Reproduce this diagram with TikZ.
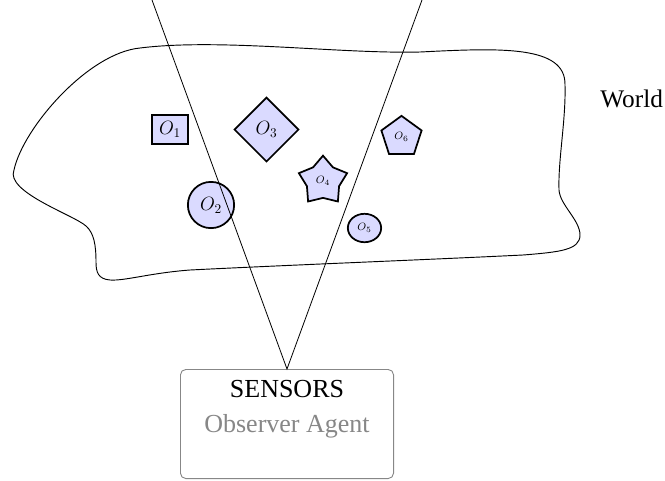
\documentclass[tikz,border=0pt]{standalone}
\usepackage{fontspec}
\newfontfamily\timesfont{Liberation Serif}
\usetikzlibrary{shapes.geometric}
\definecolor{objfill}{RGB}{218,218,255}
\definecolor{agentgray}{RGB}{135,135,135}
\tikzset{
  obj/.style={draw=black, line width=1.3pt, fill=objfill, inner sep=0pt,
              font=\fontsize{13.9}{16}\selectfont},
  smallobj/.style={obj, font=\fontsize{8.5}{10}\selectfont},
  worldline/.style={line width=0.7pt},
  coneline/.style={line width=0.6pt},
  agentbox/.style={draw=agentgray, line width=0.7pt, rounded corners=4pt,
                   minimum width=159.8pt, minimum height=81.8pt, inner sep=0pt},
  txt/.style={font=\timesfont\fontsize{19.5}{22}\selectfont, inner sep=0pt}
}
\begin{document}
\begin{tikzpicture}[x=0.75pt,y=-0.75pt]
\useasboundingbox (0,0) rectangle (665,480);

% the world region, a closed freehand outline
\draw[worldline]
  (14,170) .. controls (23,128) and (88,53) .. (140,48)
  .. controls (220,38) and (340,54) .. (420,52)
  .. controls (500,48) and (566,45) .. (565,85)
  .. controls (566,120) and (558,160) .. (559,190)
  .. controls (560,205) and (580,220) .. (580,235)
  .. controls (580,250) and (560,252) .. (523,255)
  .. controls (420,260) and (290,265) .. (190,270)
  .. controls (150,273) and (125,281) .. (110,280)
  .. controls (98,279) and (96,272) .. (96,262)
  .. controls (96,245) and (94,233) .. (86,226)
  .. controls (74,215) and (5,192) .. (14,170) -- cycle;
\node[txt, anchor=base west, font=\timesfont\fontsize{19}{22}\selectfont] (world) at (600,107) {World};

% objects in the world
\node[obj, rectangle, minimum width=27.2pt, minimum height=22pt] (o1) at (170,129.5) {$O_1$};
\node[obj, circle, minimum size=34.7pt] (o2) at (211,205) {$O_2$};
\node[obj, diamond, minimum size=48.5pt] (o3) at (266.5,129.5) {$O_3$};
\node[smallobj, star, star points=5, minimum size=38pt] (o4) at (323,181) {$O_4$};
\node[smallobj, ellipse, minimum width=25pt, minimum height=21.3pt] (o5) at (364.5,228) {$O_5$};
\node[smallobj, regular polygon, regular polygon sides=5, minimum size=31.7pt] (o6) at (401.5,137) {$O_6$};

% observer agent with its sensors
\node[agentbox] (agent) at (287,424) {};
\node[txt, anchor=base] (sensors) at (287,397) {SENSORS};
\node[txt, anchor=base, text=agentgray] (observer) at (287,432) {Observer Agent};

% field of view of the sensors
\coordinate (coneL) at (152,0);
\coordinate (coneR) at (422,0);
\draw[coneline] (coneL) -- (agent.north) -- (coneR);
\end{tikzpicture}
\end{document}
